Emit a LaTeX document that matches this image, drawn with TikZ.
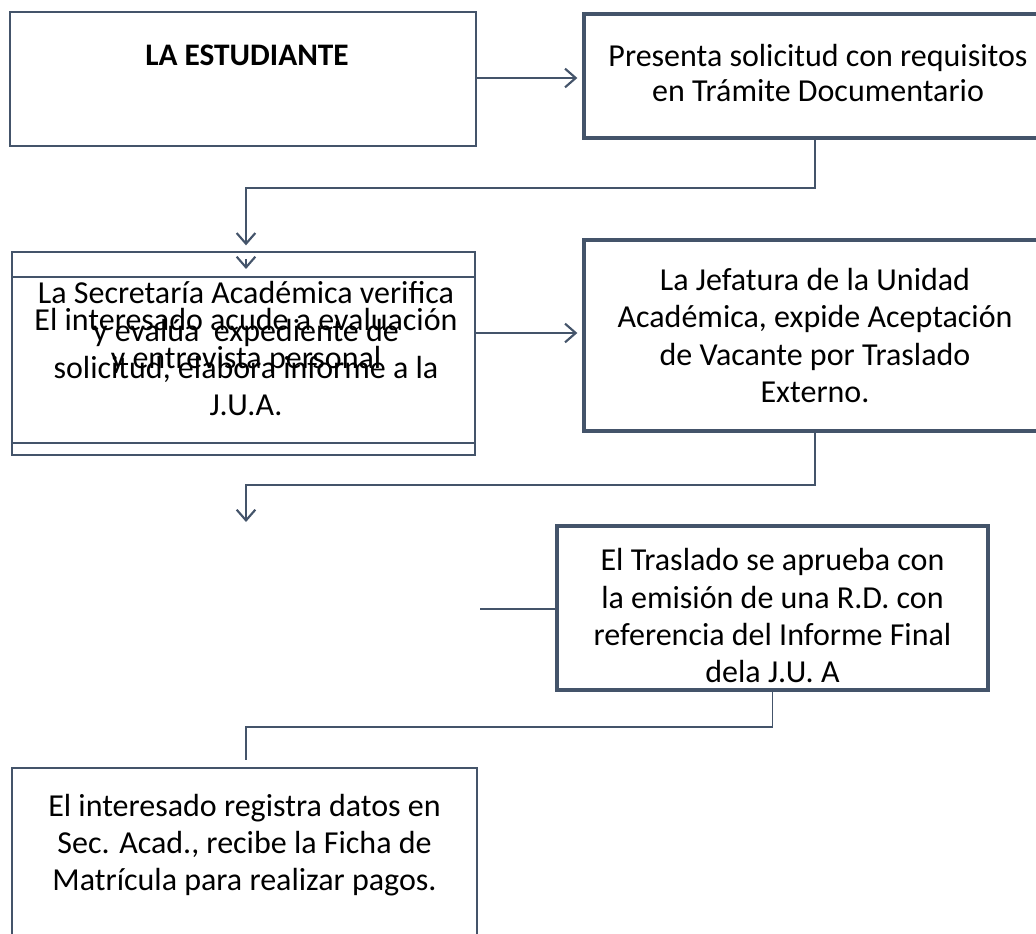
\documentclass[tikz,border=0pt]{standalone}
\usepackage{fontspec}
\setmainfont{Carlito}
\usepackage{tikz}
\usetikzlibrary{arrows.meta}
\usetikzlibrary{positioning}
\definecolor{pizarra}{RGB}{68,84,106}

\begin{document}
\begin{tikzpicture}[x=0.75pt,y=-0.75pt]

    \tikzstyle{caja}=[draw=pizarra,line width=1.6pt,outer sep=0pt,inner sep=0pt,align=center,font=\fontsize{24}{28}\selectfont]
    \tikzstyle{cajagruesa}=[caja,line width=3pt]
    \tikzstyle{texto}=[align=center,inner sep=0pt,font=\fontsize{24}{28}\selectfont]
    \tikzstyle{flecha}=[draw=pizarra,line width=1.1pt,-{Straight Barb[length=8pt,width=14pt,line width=1.6pt]}]
    \tikzstyle{linea}=[draw=pizarra,line width=1.1pt]

\useasboundingbox (0,0) rectangle (1036,934);

% cajas
\node (estudiante) [caja,minimum width=349.5pt,minimum height=100.5pt] at (243,79) {};
\node (estudiante_txt) [texto,font=\fontsize{23.5}{28}\selectfont\bfseries] at (247,55) {LA ESTUDIANTE};

\node (presenta) [cajagruesa,minimum width=346.5pt,minimum height=93pt] at (815,76) {};
\node (presenta_txt) [texto,font=\fontsize{24}{26.5}\selectfont] at (818,73) {Presenta solicitud con requisitos\\en Trámite Documentario};

\node (secretaria) [caja,minimum width=347.25pt,minimum height=143.25pt] at (243.5,347.5) {};
\node (entrevista) [caja,minimum width=347.25pt,minimum height=133.5pt] at (243.5,366) {};
\node (secretaria_txt) [texto] at (246,349) {La Secretaría Académica verifica\\y evalúa \ expediente de\\solicitud, elabora informe a la\\J.U.A.};
\node (entrevista_txt) [texto] at (246,341) {El interesado acude a evaluación\\y entrevista personal};

\node (jefatura) [cajagruesa,minimum width=346.5pt,minimum height=143.25pt] at (815,335.5) {La Jefatura de la Unidad\\Académica, expide Aceptación\\de Vacante por Traslado\\Externo.};

\node (traslado) [cajagruesa,minimum width=323.25pt,minimum height=123pt] at (772.5,608) {};
\node (traslado_txt) [texto] at (772.5,616) {El Traslado se aprueba con\\la emisión de una R.D. con\\referencia del Informe Final\\dela J.U. A};

\node (registro) [caja,minimum width=348.75pt,minimum height=136.5pt] at (244.5,859) {};
\node (registro_txt) [texto] at (244.5,845) {El interesado registra datos en\\Sec. Acad., recibe la Ficha de\\Matrícula para realizar pagos.};

% conectores
\coordinate (codo1) at (246,188);
\coordinate (codo2) at (246,485);
\coordinate (codo3) at (246,727);
\coordinate (suelto) at (480,609);

\draw [flecha,shorten >=5pt] (estudiante.east |- 0,78) -- (presenta.west |- 0,78);
\draw [flecha,shorten >=5pt] (presenta.south) |- (codo1) -- (codo1 |- secretaria.north);
\draw [flecha] (246,259) -- (246,269);
\draw [flecha,shorten >=5pt] (secretaria.east |- 0,333) -- (jefatura.west |- 0,333);
\draw [flecha] (jefatura.south) |- (codo2) -- ++(0,37);
\draw [linea] (suelto) -- (suelto -| traslado.west);
\draw [linea] (traslado.south) |- (codo3) -- ([yshift=6pt]codo3 |- registro.north);

\end{tikzpicture}
\end{document}
